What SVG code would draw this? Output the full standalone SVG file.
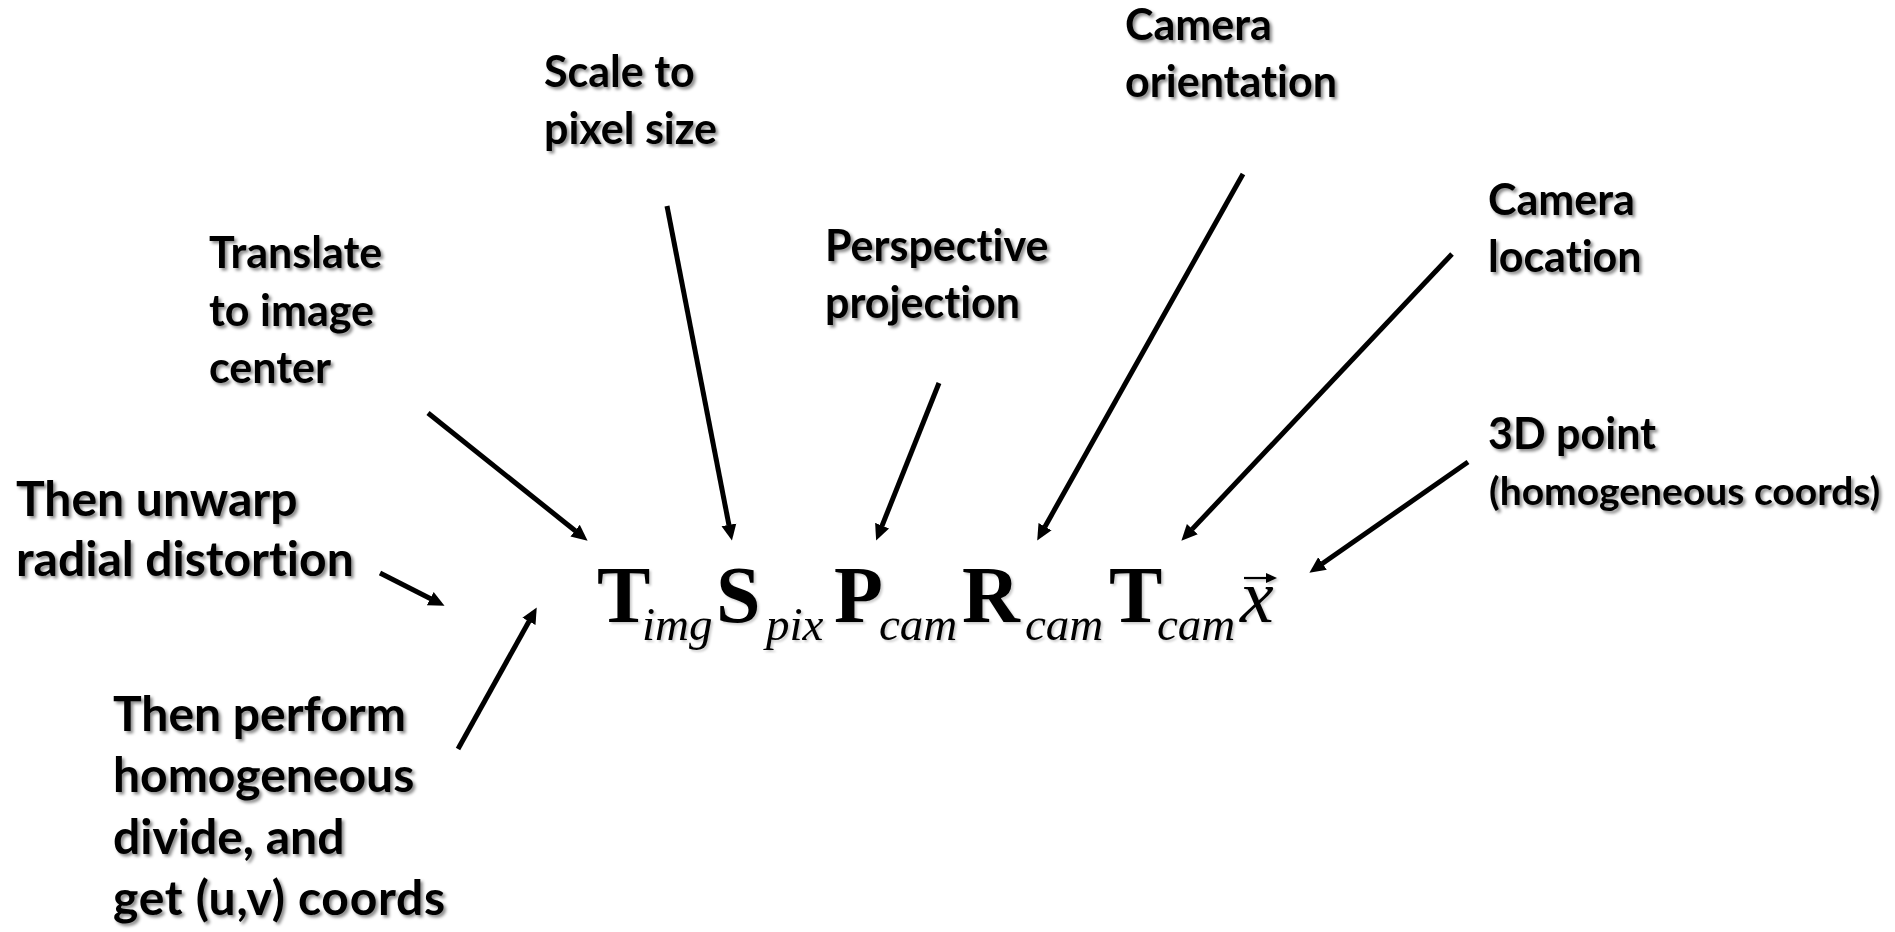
<svg xmlns="http://www.w3.org/2000/svg" width="1895" height="932" viewBox="0 0 1895 932">
  <defs>
    <filter id="shadow" x="-5%" y="-20%" width="115%" height="150%">
      <feDropShadow dx="2.5" dy="2.5" stdDeviation="1.4" flood-color="#000" flood-opacity="0.45"/>
    </filter>
    <filter id="softShadow" x="-5%" y="-20%" width="115%" height="150%">
      <feDropShadow dx="2" dy="2" stdDeviation="1.2" flood-color="#000" flood-opacity="0.2"/>
    </filter>
    <marker id="head" markerUnits="userSpaceOnUse" markerWidth="18" markerHeight="18" viewBox="0 -9 18 18" refX="0.5" refY="0" orient="auto">
      <path d="M0,-7.5 L16,0 L0,7.5 Z" fill="#000"/>
    </marker>
  </defs>
  <style>
    .lbl { font-family: Lato, "Liberation Sans", sans-serif; font-weight: 700; fill: #000; filter: url(#shadow); font-variant-ligatures: none; font-feature-settings: "liga" 0, "clig" 0; }
    .l43 { font-size: 43px; }
    .l39 { font-size: 39px; }
    .l48 { font-size: 48px; }
    .m { font-family: "Liberation Serif", "Times New Roman", serif; fill: #000; }
    .big { font-size: 80px; font-weight: 700; }
    .sub { font-size: 47px; font-style: italic; }
    .conn line { stroke: #000; stroke-width: 5; marker-end: url(#head); }
  </style>
  <rect width="1895" height="932" fill="#fff"/>

  <!-- labels -->
  <g id="translate" class="lbl l43">
    <text x="209" y="268">Translate</text>
    <text x="209" y="326">to image</text>
    <text x="209" y="383">center</text>
  </g>
  <g id="scale" class="lbl l43">
    <text x="544" y="87">Scale to</text>
    <text x="544" y="144">pixel size</text>
  </g>
  <g id="perspective" class="lbl l43">
    <text x="825" y="261">Perspective</text>
    <text x="825" y="318">projection</text>
  </g>
  <g id="orientation" class="lbl l43">
    <text x="1125" y="40">Camera</text>
    <text x="1125" y="97">orientation</text>
  </g>
  <g id="location" class="lbl l43">
    <text x="1488" y="215">Camera</text>
    <text x="1488" y="272">location</text>
  </g>
  <g id="point" class="lbl">
    <text class="l43" x="1488" y="449">3D point</text>
    <text class="l39" x="1489" y="505">(homogeneous coords)</text>
  </g>
  <g id="unwarp" class="lbl l48">
    <text x="16" y="516">Then unwarp</text>
    <text x="16" y="576">radial distortion</text>
  </g>
  <g id="divide" class="lbl l48">
    <text x="113" y="731">Then perform</text>
    <text x="113" y="792">homogeneous</text>
    <text x="113" y="854">divide, and</text>
    <text x="113" y="915" textLength="332" lengthAdjust="spacing">get (u,v) coords</text>
  </g>

  <!-- projection chain -->
  <g id="equation" class="m" filter="url(#softShadow)">
    <text class="big" x="597" y="622">T</text>
    <text class="sub" x="642" y="640">img</text>
    <text class="big" x="716" y="622">S</text>
    <text class="sub" x="766" y="640">pix</text>
    <text class="big" x="834" y="622">P</text>
    <text class="sub" x="879" y="640">cam</text>
    <text class="big" x="962" y="622">R</text>
    <text class="sub" x="1025" y="640">cam</text>
    <text class="big" x="1109" y="622">T</text>
    <text class="sub" x="1157" y="640">cam</text>
    <text class="sub" x="1240" y="622" style="font-size:76px">x</text>
    <path d="M1244,578 H1272" stroke="#000" stroke-width="2.2" fill="none"/>
    <path d="M1266,573 L1277,578 L1266,583 Z" fill="#000"/>
  </g>

  <!-- connectors -->
  <g id="connectors" class="conn">
    <line x1="428" y1="413" x2="575.5" y2="531"/>
    <line x1="667" y1="206" x2="729" y2="525.3"/>
    <line x1="939" y1="383" x2="881.9" y2="526.1"/>
    <line x1="1243" y1="174" x2="1044.8" y2="527"/>
    <line x1="1452" y1="254" x2="1192" y2="529.4"/>
    <line x1="1468" y1="462" x2="1322.1" y2="563.8"/>
    <line x1="380" y1="573" x2="430.7" y2="598.8"/>
    <line x1="458" y1="749" x2="529.2" y2="621"/>
  </g>
</svg>
